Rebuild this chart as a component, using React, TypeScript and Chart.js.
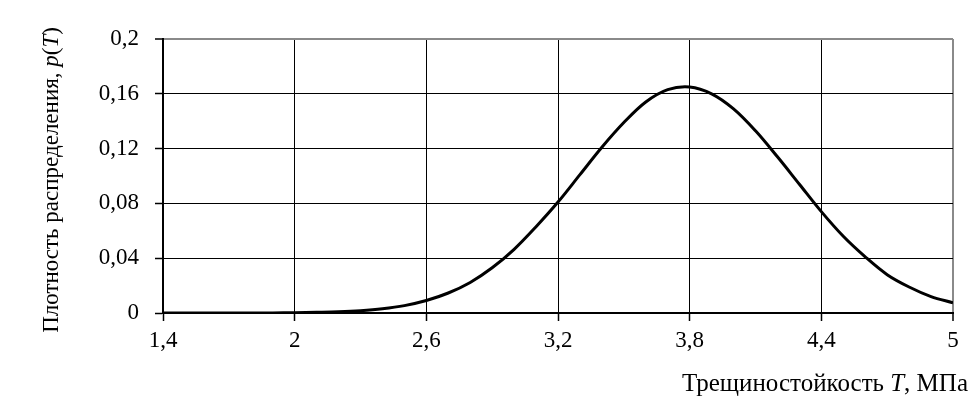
import React, { useEffect, useRef } from "react";
import { Chart, registerables } from "chart.js";

Chart.register(...registerables);

// Трещиностойкость T, МПа (x values, step 0.1)
const T_VALUES = [
  1.4, 1.5, 1.6, 1.7, 1.8, 1.9, 2.0, 2.1, 2.2, 2.3, 2.4, 2.5, 2.6, 2.7, 2.8, 2.9,
  3.0, 3.1, 3.2, 3.3, 3.4, 3.5, 3.6, 3.7, 3.8, 3.9, 4.0, 4.1, 4.2, 4.3, 4.4, 4.5,
  4.6, 4.7, 4.8, 4.9, 5.0,
];
// Плотность распределения p(T)
const P_VALUES = [
  0, 0, 0, 0, 0.00002, 0.00008, 0.0002, 0.0005, 0.0009, 0.0017, 0.0031, 0.0054,
  0.0091, 0.0146, 0.0223, 0.033, 0.0465, 0.063, 0.081, 0.101, 0.121, 0.139,
  0.154, 0.163, 0.165, 0.16, 0.149, 0.133, 0.114, 0.094, 0.074, 0.056, 0.041,
  0.028, 0.019, 0.012, 0.0074,
];
const X_TICKS = [1.4, 2, 2.6, 3.2, 3.8, 4.4, 5];
const Y_TICKS = [0, 0.04, 0.08, 0.12, 0.16, 0.2];

const X_TITLE = [
  { t: "Трещиностойкость ", i: false },
  { t: "T", i: true },
  { t: ", МПа", i: false },
];
const Y_TITLE = [
  { t: "Плотность распределения, ", i: false },
  { t: "p", i: true },
  { t: "(", i: false },
  { t: "T", i: true },
  { t: ")", i: false },
];

const FONT_FAMILY = "'Liberation Serif', 'Times New Roman', serif";
const TICK_SIZE = 23;
const X_TITLE_SIZE = 25;
const Y_TITLE_SIZE = 23;

const fmt = (v: number) => String(v).replace(".", ",");

function drawSegments(ctx: CanvasRenderingContext2D, segs: { t: string; i: boolean }[], size: number, x: number, y: number, align: "right" | "center") {
  const widths = segs.map((s) => {
    ctx.font = `${s.i ? "italic " : ""}${size}px ${FONT_FAMILY}`;
    return ctx.measureText(s.t).width;
  });
  const total = widths.reduce((a, b) => a + b, 0);
  let cx = align === "right" ? x - total : x - total / 2;
  ctx.textAlign = "left";
  segs.forEach((s, k) => {
    ctx.font = `${s.i ? "italic " : ""}${size}px ${FONT_FAMILY}`;
    ctx.fillText(s.t, cx, y);
    cx += widths[k];
  });
}

const titlesPlugin = {
  id: "axisTitles",
  afterDraw(chart: any) {
    const ctx: CanvasRenderingContext2D = chart.ctx;
    ctx.save();
    ctx.fillStyle = "#000";
    ctx.textBaseline = "alphabetic";
    drawSegments(ctx, X_TITLE, X_TITLE_SIZE, 968, 391, "right");
    ctx.translate(52, 180);
    ctx.rotate(-Math.PI / 2);
    ctx.textBaseline = "middle";
    drawSegments(ctx, Y_TITLE, Y_TITLE_SIZE, 0, 0, "center");
    ctx.restore();
  },
};

export default function App() {
  const ref = useRef<HTMLCanvasElement | null>(null);
  useEffect(() => {
    if (!ref.current) return;
    const chart = new Chart(ref.current, {
      type: "line",
      data: {
        datasets: [
          {
            data: T_VALUES.map((t, k) => ({ x: t, y: P_VALUES[k] })),
            borderColor: "#000",
            borderWidth: 3,
            pointRadius: 0,
            tension: 0.35,
            fill: false,
          },
        ],
      },
      options: {
        animation: false,
        responsive: false,
        events: [],
        layout: { padding: { left: 0, top: 39, right: 21, bottom: 0 } },
        plugins: { legend: { display: false }, tooltip: { enabled: false } },
        scales: {
          x: {
            type: "linear",
            min: 1.4,
            max: 5,
            afterBuildTicks: (scale: any) => {
              scale.ticks = X_TICKS.map((v) => ({ value: v }));
            },
            afterFit: (scale: any) => {
              scale.height = 105;
            },
            ticks: {
              callback: (v: any) => fmt(Number(v)),
              color: "#000",
              font: { family: FONT_FAMILY, size: TICK_SIZE },
              padding: 6,
              maxRotation: 0,
              autoSkip: false,
            },
            grid: {
              color: (c: any) => (c.tick && c.tick.value === 5 ? "#8a8a8a" : "#000"),
              lineWidth: (c: any) => (c.tick && c.tick.value === 5 ? 2 : 1),
              tickColor: "#000",
              tickLength: 8,
              tickWidth: 1.5,
            },
            border: { color: "#000", width: 2 },
          },
          y: {
            type: "linear",
            min: 0,
            max: 0.2,
            afterBuildTicks: (scale: any) => {
              scale.ticks = Y_TICKS.map((v) => ({ value: v }));
            },
            afterFit: (scale: any) => {
              scale.width = 163;
            },
            ticks: {
              callback: (v: any) => fmt(Number(v)),
              color: "#000",
              font: { family: FONT_FAMILY, size: TICK_SIZE },
              padding: 16,
              autoSkip: false,
            },
            grid: {
              color: (c: any) => (c.tick && c.tick.value === 0.2 ? "#8a8a8a" : "#000"),
              lineWidth: (c: any) => (c.tick && c.tick.value === 0.2 ? 2 : 1),
              tickColor: "#000",
              tickLength: 8,
              tickWidth: 1.5,
            },
            border: { color: "#000", width: 2 },
          },
        },
      },
      plugins: [titlesPlugin],
    } as any);
    return () => chart.destroy();
  }, []);
  return (
    <div style={{ position: "absolute", left: 0, top: 0, width: 974, height: 418, background: "#fff" }}>
      <canvas ref={ref} width={974} height={418} />
    </div>
  );
}
